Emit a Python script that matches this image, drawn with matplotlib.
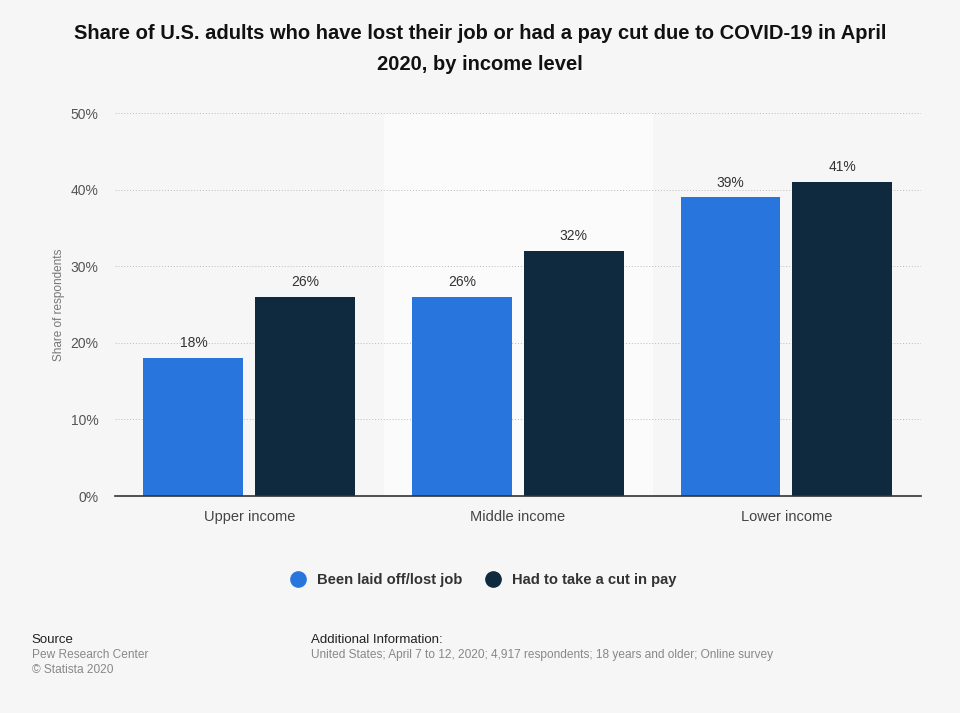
import matplotlib
matplotlib.use("Agg")
import matplotlib.pyplot as plt
from matplotlib.lines import Line2D
import numpy as np

categories = ["Upper income", "Middle income", "Lower income"]
laid_off = [18, 26, 39]
pay_cut = [26, 32, 41]
series_names = ["Been laid off/lost job", "Had to take a cut in pay"]
yticks = [0, 10, 20, 30, 40, 50]

BLUE = "#2876dd"
DARK = "#0f2a3f"
BG = "#f6f6f6"

plt.rcParams["font.family"] = ["Liberation Sans", "DejaVu Sans"]

fig = plt.figure(figsize=(9.6, 7.13), dpi=100, facecolor=BG)
ax = fig.add_axes([0.1198, 0.3043, 0.8392, 0.5372])
ax.set_facecolor(BG)

x = np.arange(len(categories))
w = 0.372
off = 0.208

# lighter band behind the middle group
ax.axvspan(0.5, 1.5, color="#fbfbfb", zorder=0)

b1 = ax.bar(x - off, laid_off, w, color=BLUE, zorder=3)
b2 = ax.bar(x + off, pay_cut, w, color=DARK, zorder=3)

for bars in (b1, b2):
    for r in bars:
        ax.text(r.get_x() + r.get_width() / 2, r.get_height() + 1.0,
                f"{r.get_height():.0f}%", ha="center", va="bottom",
                fontsize=10, color="#333333", zorder=4)

ax.set_xlim(-0.5, 2.5)
ax.set_ylim(0, 50)
ax.set_yticks(yticks)
ax.set_yticklabels([f"{t}%" for t in yticks], fontsize=10, color="#555555")
ax.set_xticks(x)
ax.set_xticklabels(categories, fontsize=10.5, color="#444444")
ax.tick_params(axis="both", length=0)
ax.tick_params(axis="y", pad=12)
ax.tick_params(axis="x", pad=10)
ax.grid(axis="y", color="#bbbbbb", linestyle=(0, (1, 2)), linewidth=0.7, zorder=1)
for s in ["top", "right", "left"]:
    ax.spines[s].set_visible(False)
ax.spines["bottom"].set_color("#333333")
ax.spines["bottom"].set_linewidth(1.2)
ax.spines["bottom"].set_zorder(5)
ax.set_ylabel("Share of respondents", fontsize=8.5, color="#777777", labelpad=4)

fig.text(0.5, 0.966, "Share of U.S. adults who have lost their job or had a pay cut due to COVID-19 in April\n2020, by income level",
         ha="center", va="top", fontsize=14.5, fontweight="bold", color="#111111", linespacing=1.78)

handles = [Line2D([], [], marker="o", linestyle="", markersize=11, color=BLUE),
           Line2D([], [], marker="o", linestyle="", markersize=11, color=DARK)]
leg = fig.legend(handles, series_names, loc="center", bbox_to_anchor=(0.5, 0.186),
                 ncol=2, frameon=False, handletextpad=0.3, columnspacing=1.1,
                 prop={"weight": "bold", "size": 10.6})
for t in leg.get_texts():
    t.set_color("#333333")

fig.text(0.033, 0.103, "Source", fontsize=9.5, color="#222222", va="center")
fig.text(0.033, 0.082, "Pew Research Center", fontsize=8.6, color="#888888", va="center")
fig.text(0.033, 0.061, "\u00a9 Statista 2020", fontsize=8.6, color="#888888", va="center")
fig.text(0.324, 0.103, "Additional Information:", fontsize=9.5, color="#222222", va="center")
fig.text(0.324, 0.082, "United States; April 7 to 12, 2020; 4,917 respondents; 18 years and older; Online survey",
         fontsize=8.6, color="#888888", va="center")

fig.savefig("out.png", dpi=100, facecolor=BG)
